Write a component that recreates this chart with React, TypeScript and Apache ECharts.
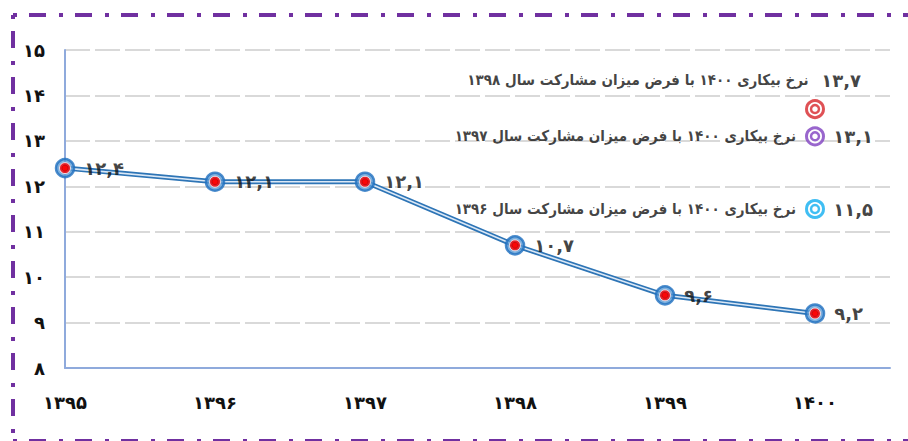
import React, { useEffect, useRef } from "react";
import * as echarts from "echarts";

const years = [1395, 1396, 1397, 1398, 1399, 1400];
const rates = [12.4, 12.1, 12.1, 10.7, 9.6, 9.2];

const scenarioYear = 1400;
const scenarioValues = [13.7, 13.1, 11.5];
const scenarioBaseYears = [1398, 1397, 1396];
const scenarioColors = ["#d7262b", "#8040c0", "#10aef0"];

const yTicks = { min: 8, max: 15, interval: 1 };

const FONT = "'DejaVu Sans', sans-serif";
const FONT_C = "'DejaVu Sans Condensed', 'DejaVu Sans', sans-serif";
const FA = "۰۱۲۳۴۵۶۷۸۹";
const fa = (v: number | string) =>
  String(v).replace(/\d/g, (d) => FA[+d]).replace(".", ",");

const desc = (y: number) => `نرخ بیکاری ${fa(1400)} با فرض میزان مشارکت سال ${fa(y)}`;

export default function App() {
  const ref = useRef<HTMLDivElement>(null);
  useEffect(() => {
    if (!ref.current) return;
    const chart = echarts.init(ref.current, undefined, { renderer: "svg" });
    const lineData = years.map((y, i) => [y, rates[i]]);

    const scenarioSeries: any[] = [];
    scenarioValues.forEach((v, i) => {
      const c = scenarioColors[i];
      const isTop = i === 0;
      scenarioSeries.push({
        type: "scatter",
        z: 5,
        data: [[scenarioYear, v]],
        symbol: "circle",
        symbolSize: 17,
        itemStyle: { color: "#fff", borderColor: c, borderWidth: 3 },
        label: isTop
          ? {
              show: true,
              position: [56, -19],
              align: "right",
              verticalAlign: "middle",
              formatter: `{d|${desc(scenarioBaseYears[i])}}{n|  ${fa(v)}}`,
              rich: {
                d: { fontFamily: FONT_C, fontSize: 15, fontWeight: "bold", color: "#111" },
                n: { fontFamily: FONT, fontSize: 18, fontWeight: "bold", color: "#111" },
              },
            }
          : {
              show: true,
              position: "left",
              distance: 9,
              formatter: desc(scenarioBaseYears[i]),
              fontFamily: FONT_C,
              fontSize: 15,
              fontWeight: "bold",
              color: "#111",
            },
      });
      scenarioSeries.push({
        type: "scatter",
        z: 6,
        data: [[scenarioYear, v]],
        symbol: "circle",
        symbolSize: 8,
        itemStyle: { color: "#fff", borderColor: c, borderWidth: 2.5 },
        label: isTop
          ? { show: false }
          : {
              show: true,
              position: "right",
              distance: 13,
              formatter: fa(v),
              fontFamily: FONT,
              fontSize: 18,
              fontWeight: "bold",
              color: "#111",
            },
      });
    });

    const borderStyle = {
      stroke: "#7030a0",
      lineWidth: 4,
      lineDash: [17, 13, 4, 12],
      lineDashOffset: 30,
    };

    chart.setOption({
      animation: false,
      backgroundColor: "#ffffff",
      grid: { left: 65, right: 18, top: 50, bottom: 73 },
      xAxis: {
        type: "value",
        min: years[0],
        max: years[years.length - 1] + 0.5,
        interval: 1,
        axisLine: { show: true, lineStyle: { color: "#8faadc", width: 2 } },
        axisTick: { show: false },
        splitLine: { show: false },
        axisLabel: {
          margin: 25,
          fontFamily: FONT,
          fontSize: 18,
          fontWeight: "bold",
          color: "#111",
          formatter: (v: number) => (Number.isInteger(v) ? fa(v) : ""),
        },
      },
      yAxis: {
        type: "value",
        min: yTicks.min,
        max: yTicks.max,
        interval: yTicks.interval,
        axisLine: { show: true, lineStyle: { color: "#8faadc", width: 2 } },
        axisTick: { show: false },
        splitLine: { show: true, lineStyle: { color: "#d9d9d9", width: 2, type: [25, 5] } },
        axisLabel: {
          margin: 20,
          fontFamily: FONT,
          fontSize: 18,
          fontWeight: "bold",
          color: "#111",
          formatter: (v: number) => fa(v),
        },
      },
      graphic: [
        {
          type: "line",
          silent: true,
          shape: { x1: 13, y1: 15, x2: 908, y2: 15 },
          style: borderStyle,
        },
        {
          type: "line",
          silent: true,
          shape: { x1: 13, y1: 15, x2: 13, y2: 441 },
          style: borderStyle,
        },
        {
          type: "line",
          silent: true,
          shape: { x1: 13, y1: 441, x2: 908, y2: 441 },
          style: borderStyle,
        },
      ],
      series: [
        {
          type: "line",
          data: lineData,
          symbol: "none",
          z: 2,
          lineStyle: { color: "#2e75b6", width: 5 },
        },
        {
          type: "line",
          data: lineData,
          symbol: "none",
          z: 3,
          lineStyle: { color: "#dbe8f6", width: 1.6 },
        },
        {
          type: "scatter",
          data: lineData,
          symbol: "circle",
          symbolSize: 18,
          z: 4,
          itemStyle: { color: "#5b9bd5", borderColor: "#1f6fbf", borderWidth: 2.5 },
          label: {
            show: true,
            position: "right",
            distance: 9,
            fontFamily: FONT,
            fontSize: 18,
            fontWeight: "bold",
            color: "#111",
            formatter: (p: any) => fa(p.value[1]),
          },
        },
        {
          type: "scatter",
          data: lineData,
          symbol: "circle",
          symbolSize: 11,
          z: 5,
          itemStyle: { color: "#ff0000", borderColor: "#ffffff", borderWidth: 1 },
        },
        {
          type: "scatter",
          data: lineData,
          symbol: "circle",
          symbolSize: 6,
          z: 6,
          itemStyle: { color: "#ff0000", borderColor: "#c00000", borderWidth: 0.8 },
        },
        ...scenarioSeries,
      ],
    });
    return () => chart.dispose();
  }, []);
  return (
    <div
      ref={ref}
      style={{ position: "fixed", left: 0, top: 0, width: 908, height: 441, background: "#fff" }}
    />
  );
}
